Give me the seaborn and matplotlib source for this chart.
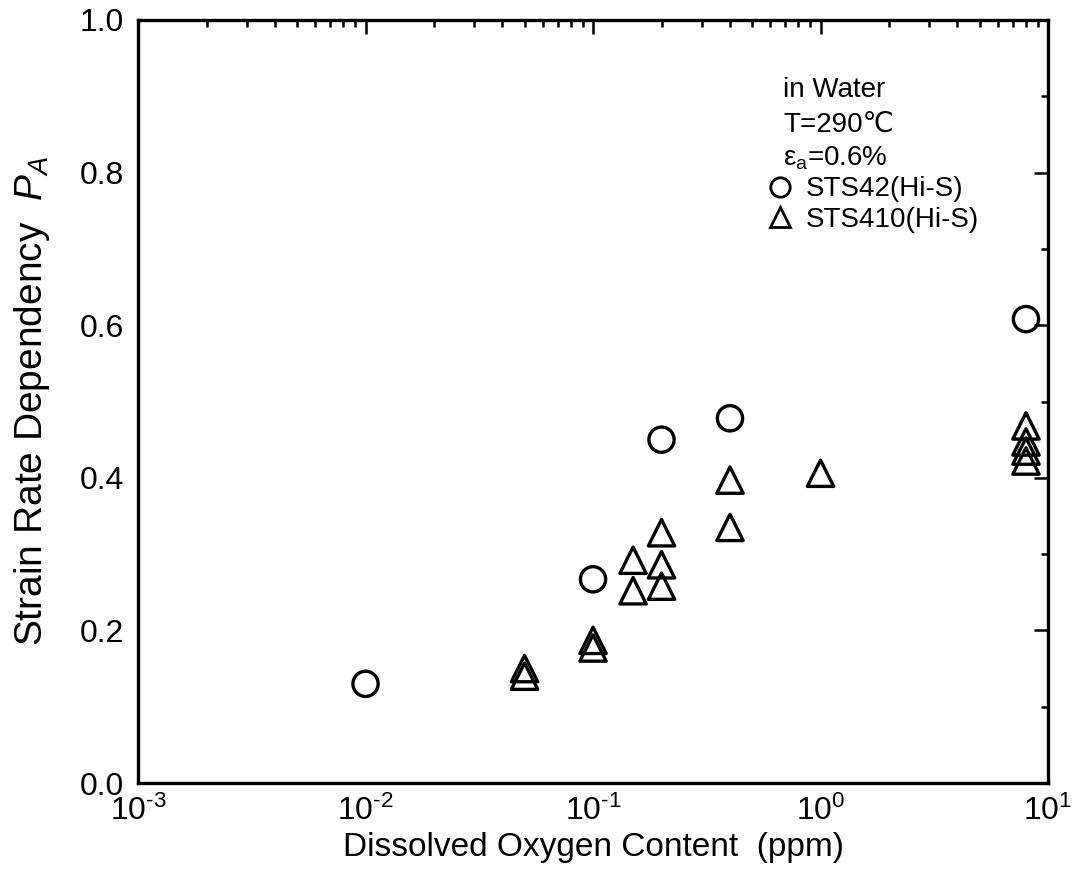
import matplotlib
matplotlib.use("Agg")
import matplotlib.pyplot as plt
import seaborn as sns
import pandas as pd
from matplotlib.lines import Line2D
from matplotlib.ticker import LogLocator, MultipleLocator, NullFormatter, FuncFormatter, FormatStrFormatter
import math

# Data
sts42_do = [0.01, 0.1, 0.2, 0.4, 8.0]
sts42_pa = [0.13, 0.267, 0.45, 0.478, 0.608]

sts410_do = [0.05, 0.05, 0.1, 0.1, 0.15, 0.15, 0.2, 0.2, 0.2, 0.4, 0.4, 1.0, 8.0, 8.0, 8.0, 8.0]
sts410_pa = [0.15, 0.14, 0.187, 0.177, 0.292, 0.252, 0.328, 0.286, 0.258, 0.397, 0.335, 0.406, 0.468, 0.447, 0.435, 0.422]

series_names = ["STS42(Hi-S)", "STS410(Hi-S)"]
conditions = ["in Water", "T=290\u2103", r"$\mathregular{\varepsilon_a}$=0.6%"]

df = pd.DataFrame({
    "do": sts42_do + sts410_do,
    "pa": sts42_pa + sts410_pa,
    "steel": [series_names[0]] * len(sts42_do) + [series_names[1]] * len(sts410_do),
})

sns.set_theme(style="white")
plt.rcParams["font.family"] = ["Liberation Sans", "DejaVu Sans"]
plt.rcParams["mathtext.fontset"] = "custom"
plt.rcParams["mathtext.rm"] = "Liberation Sans"
plt.rcParams["mathtext.it"] = "Liberation Sans:italic"
plt.rcParams["text.color"] = "black"
plt.rcParams["axes.labelcolor"] = "black"

fig = plt.figure(figsize=(10.8, 8.88), dpi=100)
ax = fig.add_axes([0.1278, 0.1182, 0.8426, 0.8593])

markers = {series_names[0]: "o", series_names[1]: "^"}
sizes = {series_names[0]: 330, series_names[1]: 360}
for name in series_names:
    sub = df[df["steel"] == name]
    sns.scatterplot(data=sub, x="do", y="pa", marker=markers[name], s=sizes[name],
                    facecolor="none", edgecolor="black", linewidth=2.4, ax=ax, legend=False)

ax.set_xscale("log")
ax.set_xlim(1e-3, 1e1)
ax.set_ylim(0.0, 1.0)
ax.yaxis.set_major_locator(MultipleLocator(0.2))
ax.yaxis.set_minor_locator(MultipleLocator(0.1))
ax.xaxis.set_major_locator(LogLocator(base=10, numticks=10))
ax.xaxis.set_minor_locator(LogLocator(base=10, subs=range(2, 10), numticks=20))
ax.xaxis.set_minor_formatter(NullFormatter())
ax.yaxis.set_major_formatter(FormatStrFormatter("%.1f"))

HYPHEN = "\u2010"


def log_fmt(v, pos):
    e = int(round(math.log10(v)))
    if e < 0:
        return "$\\mathregular{10^{" + HYPHEN + str(-e) + "}}$"
    return "$\\mathregular{10^{" + str(e) + "}}$"


ax.xaxis.set_major_formatter(FuncFormatter(log_fmt))

for sp in ax.spines.values():
    sp.set_linewidth(2.4)
    sp.set_color("black")

ax.tick_params(which="both", direction="in", top=True, right=True, colors="black",
               labelsize=23, width=1.8)
ax.tick_params(which="major", length=10)
ax.tick_params(axis="y", which="major", pad=10)
ax.tick_params(axis="x", which="major", pad=9)
ax.tick_params(which="minor", length=5)

ax.set_xlabel("Dissolved Oxygen Content  (ppm)", fontsize=24, color="black", labelpad=4)
ax.set_ylabel(r"Strain Rate Dependency  $\mathit{P}_{\mathit{A}}$", fontsize=28, color="black", labelpad=20)

ys = [0.908, 0.862, 0.819]
for txt, yy in zip(conditions, ys):
    ax.text(0.709, yy, txt, transform=ax.transAxes, fontsize=20, va="center", ha="left", color="black")

handles = [Line2D([], [], linestyle="none", marker=markers[n], markersize=14,
                  markerfacecolor="none", markeredgecolor="black", markeredgewidth=2.0)
           for n in series_names]
leg = ax.legend(handles, series_names, loc="upper left", bbox_to_anchor=(0.69, 0.795),
                frameon=False, fontsize=20, handlelength=1.0, handletextpad=0.45,
                labelspacing=0.15, borderaxespad=0.0, borderpad=0.0)
for t in leg.get_texts():
    t.set_color("black")

fig.savefig("out.png", dpi=100)
